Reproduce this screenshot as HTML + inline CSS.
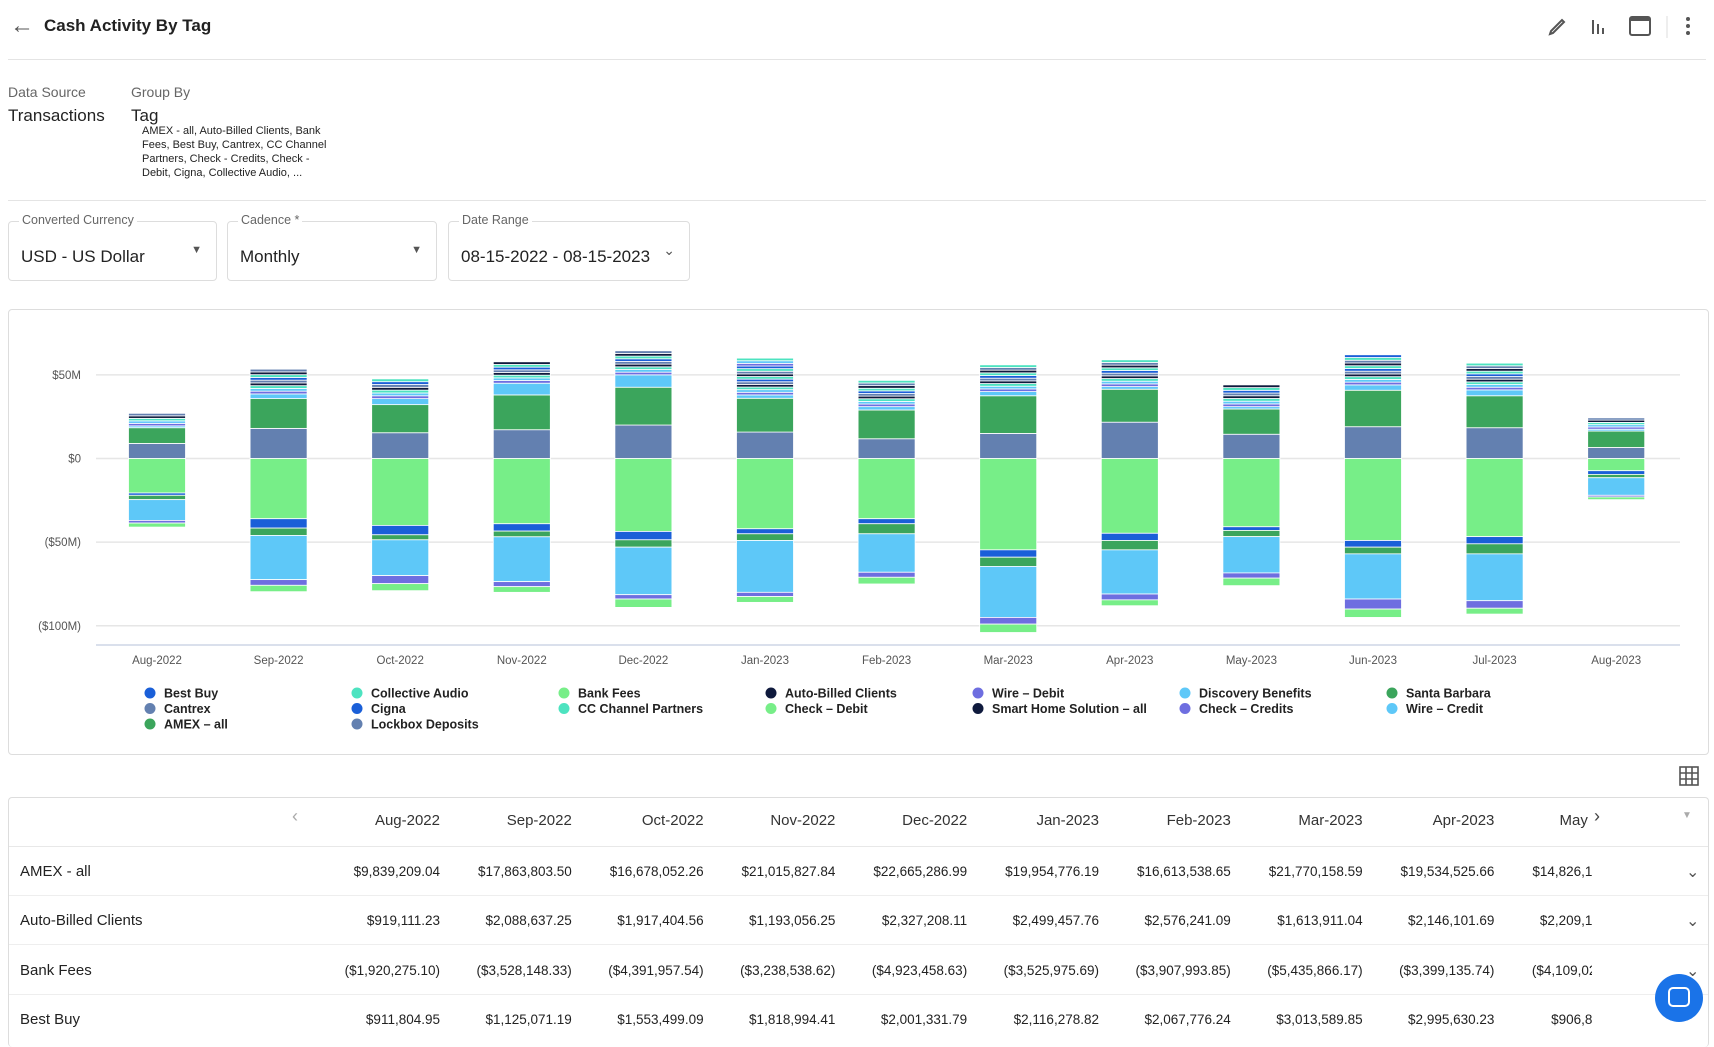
<!DOCTYPE html>
<html><head><meta charset="utf-8">
<style>
*{margin:0;padding:0;box-sizing:border-box}
body{width:1714px;height:1033px;overflow:hidden;background:#fff;font-family:"Liberation Sans",sans-serif;color:#222;position:relative}
.a{position:absolute;white-space:nowrap}
.hr{position:absolute;left:8px;right:8px;height:1px;background:#e4e4e4}
.dd{position:absolute;top:221px;height:60px;border:1px solid #ddd;border-radius:4px}
.dd .l{position:absolute;top:-9px;left:10px;background:#fff;padding:0 3px;font-size:12.5px;color:#666}
.dd .v{position:absolute;top:25px;left:12px;font-size:17px;color:#222}
.card{position:absolute;border:1px solid #ddd;border-radius:4px}
.th{position:absolute;top:812px;font-size:15px;color:#333;text-align:right;width:150px}
.td{position:absolute;font-size:13.5px;color:#222;text-align:right;width:150px}
.rl{position:absolute;left:20px;font-size:15px;color:#222}
</style></head><body>
<div class="a" style="left:10px;top:12px;font-size:24px;color:#555">&#8592;</div>
<div class="a" style="left:44px;top:16px;font-size:17px;font-weight:bold;color:#222">Cash Activity By Tag</div>
<svg class="a" style="left:1540px;top:12px" width="170" height="30">
<path d="M10 22 l3-1 11-11-2-2-11 11z" fill="none" stroke="#555" stroke-width="2"/>
<rect x="52" y="8" width="2" height="14" fill="#555"/><rect x="57" y="12" width="2" height="10" fill="#555"/><rect x="62" y="16" width="2" height="6" fill="#555"/>
<rect x="90" y="5" width="20" height="18" rx="2" fill="none" stroke="#555" stroke-width="2"/><rect x="90" y="5" width="20" height="4" fill="#555"/>
<line x1="127" y1="4" x2="127" y2="26" stroke="#ddd"/>
<circle cx="148" cy="7" r="2" fill="#555"/><circle cx="148" cy="14" r="2" fill="#555"/><circle cx="148" cy="21" r="2" fill="#555"/>
</svg>
<div class="hr" style="top:59px"></div>
<div class="a" style="left:8px;top:84px;font-size:14px;color:#666">Data Source</div>
<div class="a" style="left:131px;top:84px;font-size:14px;color:#666">Group By</div>
<div class="a" style="left:8px;top:106px;font-size:17px">Transactions</div>
<div class="a" style="left:131px;top:106px;font-size:17px">Tag</div>
<div class="a" style="left:142px;top:124px;font-size:11px;line-height:14px;color:#222">AMEX - all, Auto-Billed Clients, Bank<br>Fees, Best Buy, Cantrex, CC Channel<br>Partners, Check - Credits, Check -<br>Debit, Cigna, Collective Audio, ...</div>
<div class="hr" style="top:200px"></div>
<div class="dd" style="left:8px;width:209px"><div class="l">Converted Currency</div><div class="v">USD - US Dollar</div><div class="a" style="right:14px;top:22px;font-size:11px;color:#555">&#9660;</div></div>
<div class="dd" style="left:227px;width:210px"><div class="l">Cadence *</div><div class="v">Monthly</div><div class="a" style="right:14px;top:22px;font-size:11px;color:#555">&#9660;</div></div>
<div class="dd" style="left:448px;width:242px"><div class="l">Date Range</div><div class="v">08-15-2022 - 08-15-2023</div><div class="a" style="right:14px;top:20px;font-size:14px;color:#555">&#8964;</div></div>

<div class="card" style="left:8px;top:309px;width:1701px;height:446px"></div>
<svg id="ch" class="a" style="left:0;top:0" width="1714" height="760"></svg>

<svg class="a" style="left:1678px;top:765px" width="22" height="22"><g fill="none" stroke="#555" stroke-width="1.6"><rect x="2" y="2" width="18" height="18"/><line x1="8" y1="2" x2="8" y2="20"/><line x1="14" y1="2" x2="14" y2="20"/><line x1="2" y1="8" x2="20" y2="8"/><line x1="2" y1="14" x2="20" y2="14"/></g></svg>

<div class="card" style="left:8px;top:797px;width:1701px;height:250px;border-bottom:none"></div>
<div class="a" style="left:292px;top:806px;font-size:18px;color:#aaa">&#8249;</div>
<div class="a" style="left:1594px;top:806px;font-size:18px;color:#444">&#8250;</div>
<div class="a" style="left:1682px;top:810px;font-size:10px;color:#aaa">&#9660;</div>
<div style="position:absolute;left:0;top:0;width:1592px;height:1033px;overflow:hidden" id="tb"></div>
<div class="hr" style="top:846px;left:9px;right:6px;background:#e8e8e8"></div>
<div class="hr" style="top:895px;left:9px;right:6px;background:#eee"></div>
<div class="hr" style="top:944px;left:9px;right:6px;background:#eee"></div>
<div class="hr" style="top:994px;left:9px;right:6px;background:#eee"></div>
<div class="rl" style="top:863px">AMEX - all</div>
<div class="rl" style="top:912px">Auto-Billed Clients</div>
<div class="rl" style="top:962px">Bank Fees</div>
<div class="rl" style="top:1011px">Best Buy</div>
<div class="a" style="left:1686px;top:862px;font-size:16px;color:#555">&#8964;</div>
<div class="a" style="left:1686px;top:911px;font-size:16px;color:#555">&#8964;</div>
<div class="a" style="left:1686px;top:961px;font-size:16px;color:#555">&#8964;</div>
<div class="a" style="left:1655px;top:974px;width:48px;height:48px;border-radius:50%;background:#1a73e8"></div>
<div class="a" style="left:1668px;top:987px;width:22px;height:20px;border:2.5px solid #fff;border-radius:5px"></div>
<script>
var C={bf:'#77ee88',ca:'#6380b0',am:'#3ba55c',lb:'#5ec8f8',pu:'#6e6ee0',bl:'#1a5fd8',nv:'#0f1a3d',te:'#4de3c0'};
var P=[[9,18.4,19.5,27],[18,35.8,38.6,53.4],[15.4,32.2,35.8,47.6],[17.2,38,45,57.8],[20,42.6,50,64.4],[15.8,36,38,60],[11.8,29,31,46.7],[15,37.5,40,56],[21.7,41.4,43,59],[14.5,29.6,31,44],[19,40.8,44,62],[18.4,37.5,41,57],[6.6,16.4,17.5,24.3]];
var N=[[-20.6,-22,-24.6,-37,-38.6,-41],[-36,-41.6,-46,-72.4,-75.8,-79.6],[-40,-45.6,-48.6,-70,-74.8,-79],[-39,-43.4,-46.8,-73.6,-76.6,-80],[-43.6,-48.6,-53,-81.4,-84,-89],[-42,-45,-49,-80,-82.5,-86],[-36,-39,-45,-68,-71,-75],[-54.6,-59,-64.5,-95,-99,-104],[-44.7,-49,-54.6,-81,-84.5,-88],[-40.8,-43,-46.7,-68.4,-71.5,-76],[-49,-53,-57,-84,-90,-95],[-46.7,-51,-57,-85,-89.5,-93],[-7.3,-9.5,-11.5,-22,-23,-24.6]];
var L=['Aug-2022','Sep-2022','Oct-2022','Nov-2022','Dec-2022','Jan-2023','Feb-2023','Mar-2023','Apr-2023','May-2023','Jun-2023','Jul-2023','Aug-2023'];
function Y(v){return 458.5-v*1.673}
var s='';
[[50,'$50M'],[0,'$0'],[-50,'($50M)'],[-100,'($100M)']].forEach(function(g){var y=Y(g[0]);s+='<line x1="96" x2="1680" y1="'+y+'" y2="'+y+'" stroke="#e6e6e6" stroke-width="1.5"/><text x="81" y="'+(y+4)+'" text-anchor="end" font-size="11.5" fill="#555">'+g[1]+'</text>';});
s+='<line x1="96" x2="1680" y1="645" y2="645" stroke="#cdd6e6" stroke-width="1.5"/>';
function seg(x,a,b,c){var y1=Y(Math.max(a,b)),y2=Y(Math.min(a,b));s+='<rect x="'+x+'" y="'+y1+'" width="57" height="'+Math.max(y2-y1,0.5)+'" fill="'+c+'" stroke="#fff" stroke-width="0.8"/>';}
var thin=['pu','lb','te','nv','ca','bl','te','nv','ca','te','bl'];
for(var i=0;i<13;i++){var cx=157+i*121.6,x=cx-28.5,p=P[i],n=N[i];
seg(x,0,p[0],C.ca);seg(x,p[0],p[1],C.am);seg(x,p[1],p[2],C.lb);
var k=Math.max(5,Math.round((p[3]-p[2])/1.6)),h=(p[3]-p[2])/k;
for(var j=0;j<k;j++)seg(x,p[2]+j*h,p[2]+(j+1)*h,C[thin[j%thin.length]]);
var cs=[C.bf,C.bl,C.am,C.lb,C.pu,C.bf],prev=0;
for(var j=0;j<6;j++){seg(x,prev,n[j],cs[j]);prev=n[j];}
s+='<text x="'+cx+'" y="664" text-anchor="middle" font-size="11.5" fill="#555">'+L[i]+'</text>';}
var LG=[[['Best Buy',C.bl],['Cantrex',C.ca],['AMEX – all',C.am]],[['Collective Audio',C.te],['Cigna',C.bl],['Lockbox Deposits',C.ca]],[['Bank Fees',C.bf],['CC Channel Partners',C.te]],[['Auto-Billed Clients',C.nv],['Check – Debit',C.bf]],[['Wire – Debit',C.pu],['Smart Home Solution – all',C.nv]],[['Discovery Benefits',C.lb],['Check – Credits',C.pu]],[['Santa Barbara',C.am],['Wire – Credit',C.lb]]];
LG.forEach(function(col,ci){var x=150+ci*207;col.forEach(function(it,r){var y=693+r*15.5;s+='<circle cx="'+x+'" cy="'+y+'" r="5.5" fill="'+it[1]+'"/><text x="'+(x+14)+'" y="'+(y+4.5)+'" font-size="12.5" font-weight="bold" fill="#222">'+it[0]+'</text>';});});
document.getElementById('ch').innerHTML=s;
var H=['Aug-2022','Sep-2022','Oct-2022','Nov-2022','Dec-2022','Jan-2023','Feb-2023','Mar-2023','Apr-2023','May-2023'];
var R=[['$9,839,209.04','$17,863,803.50','$16,678,052.26','$21,015,827.84','$22,665,286.99','$19,954,776.19','$16,613,538.65','$21,770,158.59','$19,534,525.66','$14,826,151.27'],
['$919,111.23','$2,088,637.25','$1,917,404.56','$1,193,056.25','$2,327,208.11','$2,499,457.76','$2,576,241.09','$1,613,911.04','$2,146,101.69','$2,209,144.20'],
['($1,920,275.10)','($3,528,148.33)','($4,391,957.54)','($3,238,538.62)','($4,923,458.63)','($3,525,975.69)','($3,907,993.85)','($5,435,866.17)','($3,399,135.74)','($4,109,026.11)'],
['$911,804.95','$1,125,071.19','$1,553,499.09','$1,818,994.41','$2,001,331.79','$2,116,278.82','$2,067,776.24','$3,013,589.85','$2,995,630.23','$906,812.33']];
var t='',tops=[863,912,962,1011];
H.forEach(function(h,i){var r=440+i*131.8;t+='<div class="th" style="left:'+(r-150)+'px">'+h+'</div>';
R.forEach(function(row,k){t+='<div class="td" style="left:'+(r-150)+'px;top:'+(tops[k]+1)+'px">'+row[i]+'</div>';});});
t+='<div style="position:absolute;left:1588px;top:800px;width:20px;height:40px;background:#fff"></div>';
document.getElementById('tb').innerHTML=t;
</script>
</body></html>
